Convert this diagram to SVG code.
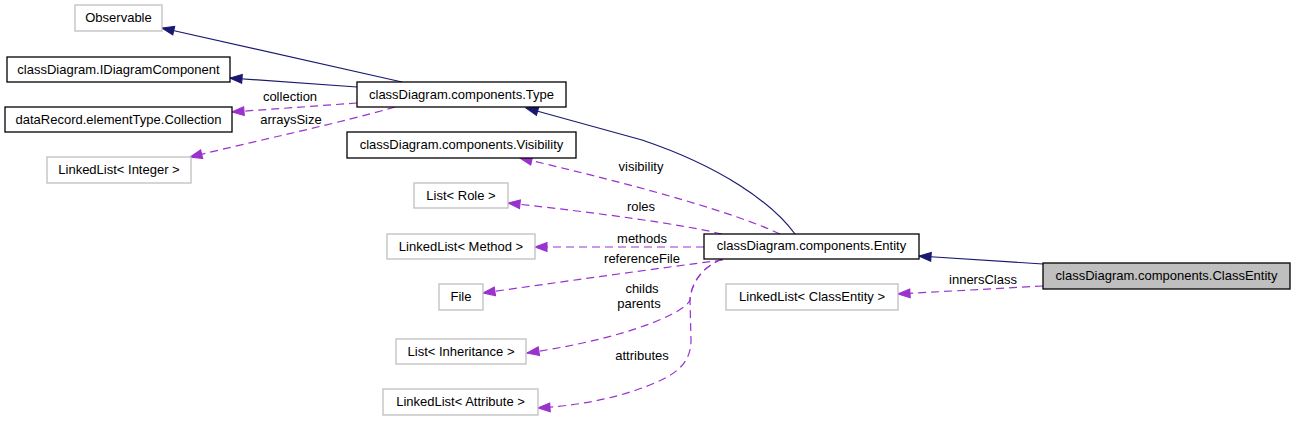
<svg xmlns="http://www.w3.org/2000/svg" width="1296" height="421" viewBox="0 0 1296 421">
<style>
  .bg{fill:#ffffff}
  .nd rect{fill:#ffffff;stroke:#000000;stroke-width:1.3}
  .nd.ext rect{stroke:#bfbfbf}
  .nd.cur rect{fill:#bfbfbf}
  text{font-family:"Liberation Sans",Arial,sans-serif;font-size:13px;fill:#000000;text-anchor:middle}
  .inh{fill:none;stroke:#191970;stroke-width:1.2;marker-end:url(#an)}
  .use{fill:none;stroke:#9a32cd;stroke-width:1.2;stroke-dasharray:8,5;marker-end:url(#ap)}
</style>
<defs>
  <marker id="an" markerUnits="userSpaceOnUse" markerWidth="12" markerHeight="9" viewBox="0 0 11 8" refX="11" refY="4" orient="auto" overflow="visible">
    <path d="M0,0 L11,4 L0,8 z" fill="#191970" stroke="#191970" stroke-width="1"/>
  </marker>
  <marker id="ap" markerUnits="userSpaceOnUse" markerWidth="12" markerHeight="9" viewBox="0 0 11 8" refX="11" refY="4" orient="auto" overflow="visible">
    <path d="M0,0 L11,4 L0,8 z" fill="#9a32cd" stroke="#9a32cd" stroke-width="1"/>
  </marker>
</defs>
<rect class="bg" x="0" y="0" width="1296" height="421"/>

<g id="connectors">
  <path class="inh" d="M402,82 L162,28"/>
  <path class="inh" d="M357,87 L230,78"/>
  <path class="use" d="M357,103 L232,112"/>
  <path class="use" d="M395,107 C340,123 260,140 190,157"/>
  <path class="inh" d="M795,234 C772,203 722,167 642,140 L526,108"/>
  <path class="use" d="M780,234 C740,215 650,188 520,158"/>
  <path class="use" d="M722,234 C680,224 600,213 508,203"/>
  <path class="use" d="M704,247 L535,247"/>
  <path class="use" d="M723,260 C660,268 560,282 483,293"/>
  <path class="use" d="M722,259 C700,268 691,285 690,300 C686,312 630,338 527,353"/>
  <path class="use" d="M722,259 C700,268 691,285 690,300 L691,340 C691,360 680,372 657,382 C630,394 590,405 538,408"/>
  <path class="inh" d="M1043,264 L919,256"/>
  <path class="use" d="M1043,286 L898,294"/>
  <g id="edge-labels">
    <text x="290" y="101">collection</text>
    <text x="291" y="124">arraysSize</text>
    <text x="641" y="171">visibility</text>
    <text x="641" y="211">roles</text>
    <text x="642" y="242.5">methods</text>
    <text x="642" y="262.5">referenceFile</text>
    <text x="642" y="293">childs</text>
    <text x="639" y="307.5">parents</text>
    <text x="642" y="360">attributes</text>
    <text x="983" y="284">innersClass</text>
  </g>
</g>

<g id="node-observable" class="nd ext"><rect x="75" y="5" width="87" height="26"/><text x="118.5" y="22">Observable</text></g>
<g id="node-idiagramcomponent" class="nd"><rect x="7" y="57" width="223" height="25"/><text x="118.5" y="73.5">classDiagram.IDiagramComponent</text></g>
<g id="node-collection" class="nd"><rect x="5" y="107" width="227" height="25"/><text x="118.5" y="123.5">dataRecord.elementType.Collection</text></g>
<g id="node-linkedlist-integer" class="nd ext"><rect x="47" y="157" width="144" height="26"/><text x="119" y="174">LinkedList&lt; Integer &gt;</text></g>
<g id="node-type" class="nd"><rect x="357" y="82" width="209" height="25"/><text x="461.5" y="98.5">classDiagram.components.Type</text></g>
<g id="node-visibility" class="nd"><rect x="347" y="132" width="229" height="26"/><text x="461.5" y="149">classDiagram.components.Visibility</text></g>
<g id="node-list-role" class="nd ext"><rect x="414" y="183" width="94" height="25"/><text x="461" y="199.5">List&lt; Role &gt;</text></g>
<g id="node-linkedlist-method" class="nd ext"><rect x="387" y="234" width="148" height="25"/><text x="461" y="250.5">LinkedList&lt; Method &gt;</text></g>
<g id="node-file" class="nd ext"><rect x="439" y="284" width="44" height="26"/><text x="461" y="301">File</text></g>
<g id="node-list-inheritance" class="nd ext"><rect x="396" y="339" width="130" height="25"/><text x="461" y="355.5">List&lt; Inheritance &gt;</text></g>
<g id="node-linkedlist-attribute" class="nd ext"><rect x="383" y="389" width="155" height="26"/><text x="460.5" y="406">LinkedList&lt; Attribute &gt;</text></g>
<g id="node-entity" class="nd"><rect x="704" y="234" width="215" height="25"/><text x="811.5" y="250">classDiagram.components.Entity</text></g>
<g id="node-linkedlist-classentity" class="nd ext"><rect x="726" y="284" width="172" height="26"/><text x="812" y="301">LinkedList&lt; ClassEntity &gt;</text></g>
<g id="node-classentity" class="nd cur"><rect x="1043" y="263" width="247" height="26"/><text x="1166.5" y="279.5">classDiagram.components.ClassEntity</text></g>
</svg>
